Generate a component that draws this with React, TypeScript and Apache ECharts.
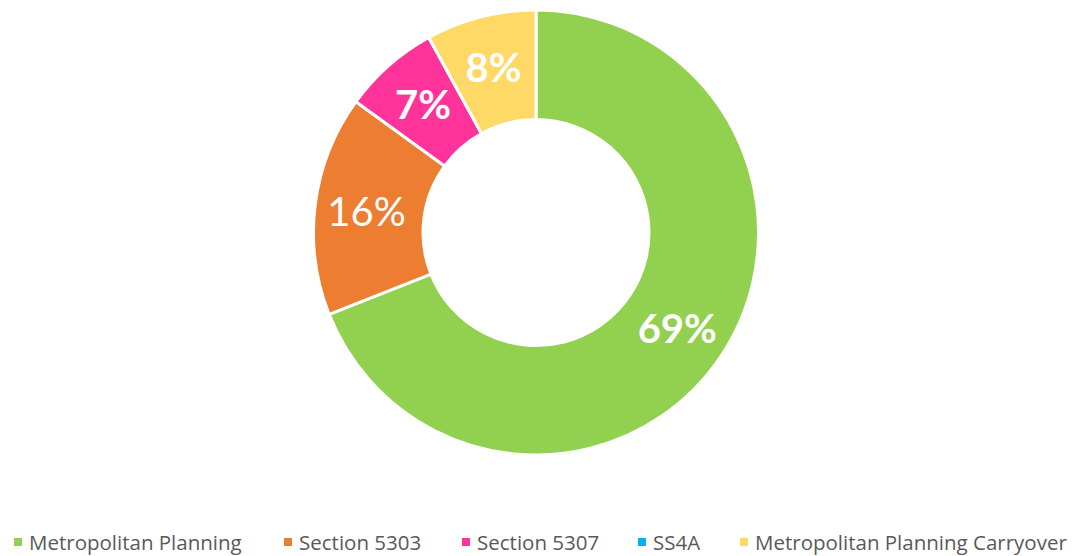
import React, { useEffect, useRef } from "react";
import * as echarts from "echarts";

const categories = ["Metropolitan Planning", "Section 5303", "Section 5307", "SS4A", "Metropolitan Planning Carryover"];
const values = [69, 16, 7, 0, 8];
const colors = ["#92D050", "#ED7D31", "#FF3399", "#00B0F0", "#FFD966"];
const labelWeights = ["bold", "normal", "bold", "bold", "bold"];
const legendLefts = [12, 282, 460, 636, 738];

export default function App() {
  const ref = useRef<HTMLDivElement>(null);
  useEffect(() => {
    if (!ref.current) return;
    const chart = echarts.init(ref.current, null, { renderer: "svg" });
    const legends = categories.map((c, i) => ({
      data: [c],
      left: legendLefts[i],
      top: 531,
      padding: 0,
      icon: "rect",
      itemWidth: 10,
      itemHeight: 10,
      itemGap: 6,
      selectedMode: false,
      textStyle: { color: "#595959", fontSize: 20.5, lineHeight: 22, fontFamily: "Open Sans", padding: [0, 0, 0, 1] },
    }));
    chart.setOption({
      animation: false,
      backgroundColor: "#ffffff",
      legend: legends,
      series: [
        {
          type: "pie",
          center: [536, 232.5],
          radius: [113, 222.5],
          startAngle: 90,
          clockwise: true,
          avoidLabelOverlap: false,
          itemStyle: { borderColor: "#ffffff", borderWidth: 3 },
          label: {
            show: true,
            position: "inside",
            color: "#ffffff",
            fontSize: 40,
            fontFamily: "Lato",
            formatter: (p: any) => (p.value === 0 ? "" : p.value + "%"),
          },
          labelLine: { show: false },
          emphasis: { disabled: true },
          data: categories.map((c, i) => ({
            name: c,
            value: values[i],
            itemStyle: { color: colors[i] },
            label: { fontWeight: labelWeights[i] },
          })),
        },
      ],
    });
    return () => chart.dispose();
  }, []);
  return (
    <div
      ref={ref}
      style={{ position: "absolute", left: 0, top: 0, width: 1078, height: 556 }}
    />
  );
}
